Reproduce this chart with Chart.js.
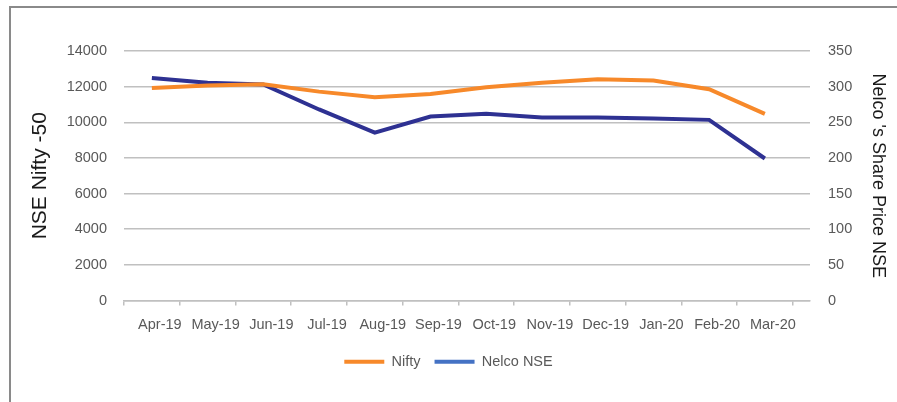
<!DOCTYPE html>
<html>
<head>
<meta charset="utf-8">
<script src="https://cdn.jsdelivr.net/npm/chart.js@4"></script>
<style>
html, body { margin: 0; padding: 0; background: #fff; }
#wrap { position: relative; width: 897px; height: 402px; overflow: hidden; }
#frame { position: absolute; left: 9px; top: 6px; width: 1000px; height: 1000px; border: 2px solid #8a8a8a; pointer-events: none; }
</style>
</head>
<body>
<div id="wrap">
  <canvas id="chart" width="897" height="402"></canvas>
  <div id="frame"></div>
</div>
<script>
// values
const months = ['Apr-19', 'May-19', 'Jun-19', 'Jul-19', 'Aug-19', 'Sep-19', 'Oct-19', 'Nov-19', 'Dec-19', 'Jan-20', 'Feb-20', 'Mar-20'];
const nifty = [11930, 12060, 12135, 11720, 11405, 11590, 11965, 12225, 12415, 12340, 11855, 10470];
const nelco = [312, 305.6, 303, 268, 235.6, 258, 261.8, 256.6, 256.6, 255.2, 253.4, 199.2];
const seriesNames = ['Nifty', 'Nelco NSE'];
const lineColors = ['#F7892A', '#2E3192'];
const legendColors = ['#F7892A', '#4472C4'];

const tickColor = '#595959';
const gridColor = '#c0c0c0';
const font = 'Liberation Sans, Arial, sans-serif';

const toPoints = arr => arr.map((v, i) => ({ x: i, y: v }));

new Chart(document.getElementById('chart'), {
    type: 'line',
    data: {
        datasets: [
            {
                label: seriesNames[0],
                data: toPoints(nifty),
                yAxisID: 'y',
                borderColor: lineColors[0],
                backgroundColor: legendColors[0],
                borderWidth: 4,
                pointRadius: 0,
                tension: 0
            },
            {
                label: seriesNames[1],
                data: toPoints(nelco),
                yAxisID: 'y1',
                borderColor: lineColors[1],
                backgroundColor: legendColors[1],
                borderWidth: 4,
                pointRadius: 0,
                tension: 0
            }
        ]
    },
    options: {
        responsive: false,
        animation: false,
        layout: { padding: { top: 51, left: 0, right: 0, bottom: 23 } },
        plugins: {
            tooltip: { enabled: false },
            legend: {
                position: 'bottom',
                labels: {
                    boxWidth: 40,
                    boxHeight: 4,
                    padding: 14,
                    color: tickColor,
                    font: { family: font, size: 14.5 },
                    generateLabels(chart) {
                        const items = Chart.defaults.plugins.legend.labels.generateLabels(chart);
                        items.forEach((it, i) => {
                            it.lineWidth = 0;
                            it.fillStyle = legendColors[i];
                            it.strokeStyle = legendColors[i];
                        });
                        return items;
                    }
                }
            }
        },
        scales: {
            x: {
                type: 'linear',
                min: -0.5,
                max: 11.81,
                afterBuildTicks: s => { s.ticks = months.map((m, i) => ({ value: i })); },
                afterFit: s => { s.height = 40; },
                ticks: {
                    autoSkip: false,
                    maxRotation: 0,
                    labelOffset: 8,
                    padding: 11,
                    color: tickColor,
                    font: { family: font, size: 14.5 },
                    callback: v => months[v]
                },
                grid: {
                    offset: true,
                    drawOnChartArea: false,
                    tickLength: 5,
                    color: gridColor,
                    lineWidth: 1.5
                },
                border: { color: gridColor, width: 1.5 }
            },
            y: {
                position: 'left',
                min: 0,
                max: 14000,
                afterFit: s => { s.width = 124; },
                ticks: {
                    stepSize: 2000,
                    padding: 17,
                    color: tickColor,
                    font: { family: font, size: 14.5 },
                    callback: v => String(v)
                },
                grid: { color: gridColor, lineWidth: 1.5, drawTicks: false },
                border: { display: false },
                title: {
                    display: true,
                    text: 'NSE Nifty -50',
                    color: '#1a1a1a',
                    font: { family: font, size: 21 },
                    padding: { top: 28, bottom: 0 }
                }
            },
            y1: {
                position: 'right',
                min: 0,
                max: 350,
                afterFit: s => { s.width = 87; },
                ticks: {
                    stepSize: 50,
                    padding: 18,
                    color: tickColor,
                    font: { family: font, size: 14.5 },
                    callback: v => String(v)
                },
                grid: { drawOnChartArea: false, drawTicks: false },
                border: { display: false },
                title: {
                    display: true,
                    text: "Nelco 's Share Price NSE",
                    color: '#1a1a1a',
                    font: { family: font, size: 18 },
                    padding: { top: 8, bottom: 0 }
                }
            }
        }
    }
});
</script>
</body>
</html>
